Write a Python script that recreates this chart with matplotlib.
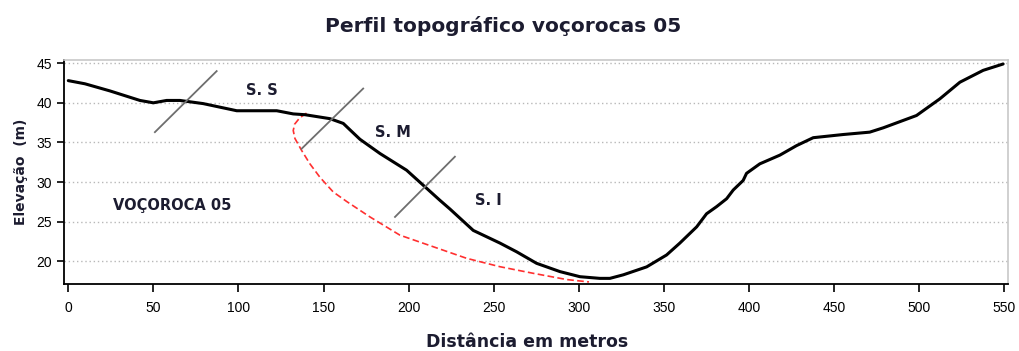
import matplotlib
matplotlib.use("Agg")
import matplotlib.pyplot as plt

# Terrain profile (distance in m, elevation in m)
dist = [0, 9.8, 24.5, 42.1, 50, 57.8, 65.6, 79.3, 99, 122.5, 132.2, 139.1, 153.8,
        161.6, 165.5, 171.4, 183.2, 198.8, 208.6, 218.4, 224.3, 238, 253.7, 263.5,
        275.2, 289, 300.7, 312.4, 318.3, 326.2, 339.9, 351.6, 359.4, 369.3, 375.1,
        381, 386.9, 390.8, 396.6, 398.6, 406.4, 418.2, 428, 437.8, 455.4, 471, 479,
        498.5, 512.2, 524, 537.7, 549.4]
elev = [42.8, 42.4, 41.5, 40.3, 40.0, 40.3, 40.3, 39.9, 39.0, 39.0, 38.6, 38.5, 38.0,
        37.4, 36.6, 35.4, 33.6, 31.5, 29.6, 27.7, 26.6, 23.9, 22.3, 21.2,
        19.75, 18.7, 18.06, 17.85, 17.85, 18.3, 19.3, 20.8, 22.3, 24.35, 26.0,
        26.9, 27.9, 29.0, 30.2, 31.1, 32.3, 33.4, 34.6, 35.6, 36.0, 36.3, 36.85,
        38.4, 40.5, 42.6, 44.1, 44.9]

# Gully outline (dashed)
gully_dist = [140.0, 136.0, 133.0, 132.2, 133.2, 137.1, 142.0, 147.9, 155.7, 163.6,
              177.3, 194.9, 214.5, 234.1, 253.7, 273.2, 292.9, 306.0]
gully_elev = [38.7, 38.1, 37.3, 36.5, 35.5, 34.0, 32.3, 30.6, 28.75, 27.55,
              25.6, 23.3, 21.84, 20.38, 19.32, 18.49, 17.7, 17.4]

# Section dividers: (x0, y0, x1, y1)
dividers = [(50.9, 36.3, 87.2, 44.0),
            (137.1, 34.2, 173.3, 41.8),
            (192.0, 25.6, 227.2, 33.2)]

# Annotations
labels = ["S. S", "S. M", "S. I", "VOÇOROCA 05"]
label_x = [113.7, 190.8, 247.0, 60.9]
label_y = [41.6, 36.2, 27.7, 27.1]

x_ticks = [0, 50, 100, 150, 200, 250, 300, 350, 400, 450, 500, 550]
y_ticks = [20, 25, 30, 35, 40, 45]

txt_color = "#1c1c30"
bold_font = "DejaVu Sans"

fig = plt.figure(figsize=(10.19, 3.51), dpi=100)
ax = fig.add_axes([0.0631, 0.19, 0.926, 0.639])

ax.set_xlim(-2.35, 552.2)
ax.set_ylim(17.1, 45.4)

for yv in y_ticks:
    ax.axhline(yv, color="#b8b8b8", lw=1.0, ls=(0, (1, 2)), zorder=0)

ax.plot(gully_dist, gully_elev, color="#ff3030", lw=1.2, ls=(0, (4, 2)), zorder=2)
ax.plot(dist, elev, color="black", lw=2.2, zorder=3,
        solid_joinstyle="round", solid_capstyle="round")

for x0, y0, x1, y1 in dividers:
    ax.plot([x0, x1], [y0, y1], color="#6e6e6e", lw=1.3, zorder=4)

for t, xv, yv in zip(labels, label_x, label_y):
    ax.text(xv, yv, t, ha="center", va="center", fontsize=10.5, fontweight="bold",
            family=bold_font, color=txt_color)

ax.set_xticks(x_ticks)
ax.set_yticks(y_ticks)
ax.tick_params(axis="x", labelsize=10, colors="black", length=6, width=1.2, pad=6)
ax.tick_params(axis="y", labelsize=10, colors="black", length=5, width=1.2, pad=4)
for lab in ax.get_xticklabels() + ax.get_yticklabels():
    lab.set_family("Liberation Sans")

for side in ("left", "bottom"):
    ax.spines[side].set_color("black")
    ax.spines[side].set_linewidth(1.3)
for side in ("top", "right"):
    ax.spines[side].set_color("#c8c8c8")
    ax.spines[side].set_linewidth(1.2)

ax.set_xlabel("Distância em metros", fontsize=12.5, fontweight="bold",
              family=bold_font, color=txt_color)
ax.xaxis.set_label_coords(0.49, -0.215)
ax.set_ylabel("Elevação  (m)", fontsize=10, fontweight="bold",
              family=bold_font, color=txt_color)
ax.yaxis.set_label_coords(-0.038, 0.5)

fig.text(0.494, 0.925, "Perfil topográfico voçorocas 05", ha="center", va="center",
         fontsize=14.5, fontweight="bold", family=bold_font, color=txt_color)

fig.savefig("out.png", dpi=100)
